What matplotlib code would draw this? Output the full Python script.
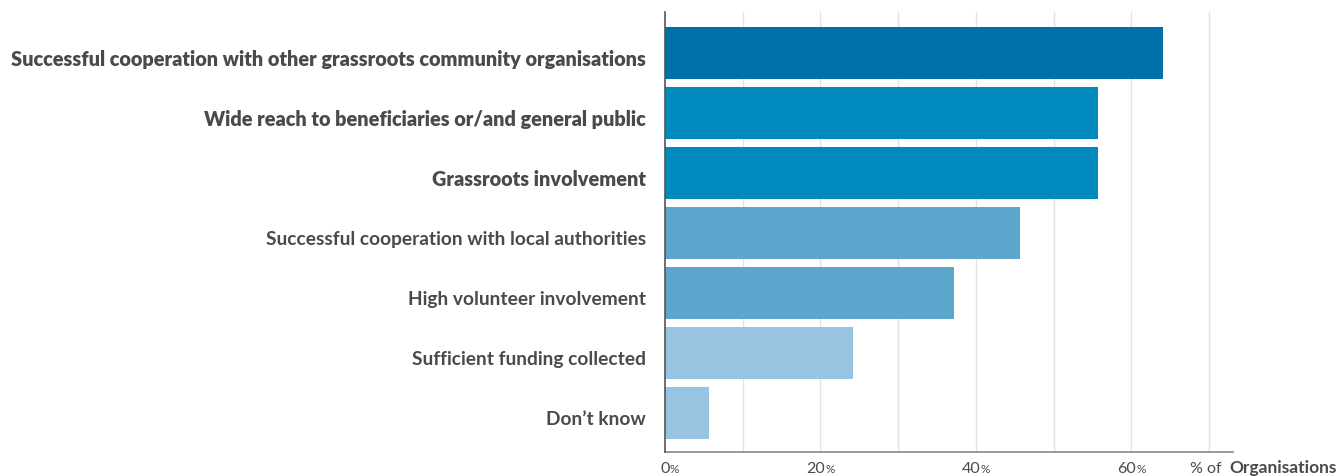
import matplotlib.pyplot as plt
from matplotlib import transforms

# survey answers, top to bottom
categories = [
    "Successful cooperation with other grassroots community organisations",
    "Wide reach to beneficiaries or/and general public",
    "Grassroots involvement",
    "Successful cooperation with local authorities",
    "High volunteer involvement",
    "Sufficient funding collected",
    "Don\u2019t know",
]
share = [64.1, 55.7, 55.7, 45.7, 37.2, 24.2, 5.7]
bar_colors = ["#0071A8", "#008ABD", "#008ABD", "#5CA5CD", "#5CA5CD", "#98C3E1", "#98C3E1"]
label_weights = ["heavy", "heavy", "heavy", "bold", "bold", "bold", "bold"]
label_sizes = [14.3, 14.3, 14.3, 13.8, 13.8, 13.8, 13.8]
x_ticks = [0, 20, 40, 60]

plt.rcParams["font.family"] = ["Lato", "DejaVu Sans"]
text_color = "#4a4a4a"

W, H = 1339, 477
fig = plt.figure(figsize=(W / 100, H / 100), dpi=100)
ax = fig.add_axes([665 / W, 1 - 453 / H, (1233 - 665) / W, (453 - 13) / H])

y = list(range(len(categories)))
ax.barh(y, share, height=0.867, color=bar_colors, zorder=2)

ax.set_ylim(6.65, -0.683)
ax.set_xlim(0, 73.1)

# light vertical grid every 10%
for g in range(10, 80, 10):
    ax.axvline(g, color="#e3e3e3", lw=1, zorder=1)

for s in ["top", "right"]:
    ax.spines[s].set_visible(False)
ax.spines["left"].set_color("#555555")
ax.spines["left"].set_linewidth(1.2)
ax.spines["bottom"].set_color("#888888")
ax.spines["bottom"].set_linewidth(1.2)
ax.spines["left"].set_zorder(3)

ax.set_yticks([])
ax.set_xticks([])

# category labels, right aligned just left of the axis
lab_tr = transforms.offset_copy(
    transforms.blended_transform_factory(ax.transAxes, ax.transData),
    fig=fig, x=-19, y=-6, units="dots")
for yi, name, w, fs in zip(y, categories, label_weights, label_sizes):
    ax.text(0, yi, name, transform=lab_tr, ha="right", va="center",
            fontsize=fs, fontweight=w, color=text_color)

# x tick labels with a smaller percent sign
base = transforms.blended_transform_factory(ax.transData, fig.transFigure)
tr = transforms.offset_copy(base, fig=fig, x=5, y=0, units="dots")
for t in x_ticks:
    ax.text(t, 1 - 469 / H, str(t), transform=tr, ha="right", va="center",
            fontsize=11.5, color=text_color)
    ax.text(t, 1 - 470 / H, "%", transform=tr, ha="left", va="center",
            fontsize=8.5, color=text_color)

fig.text(1190 / W, 1 - 469 / H, "% of", ha="left", va="center",
         fontsize=11.5, color=text_color)
fig.text(1337 / W, 1 - 468 / H, "Organisations", ha="right", va="center",
         fontsize=12.5, fontweight="bold", color=text_color)

fig.savefig("out.png", dpi=100)
